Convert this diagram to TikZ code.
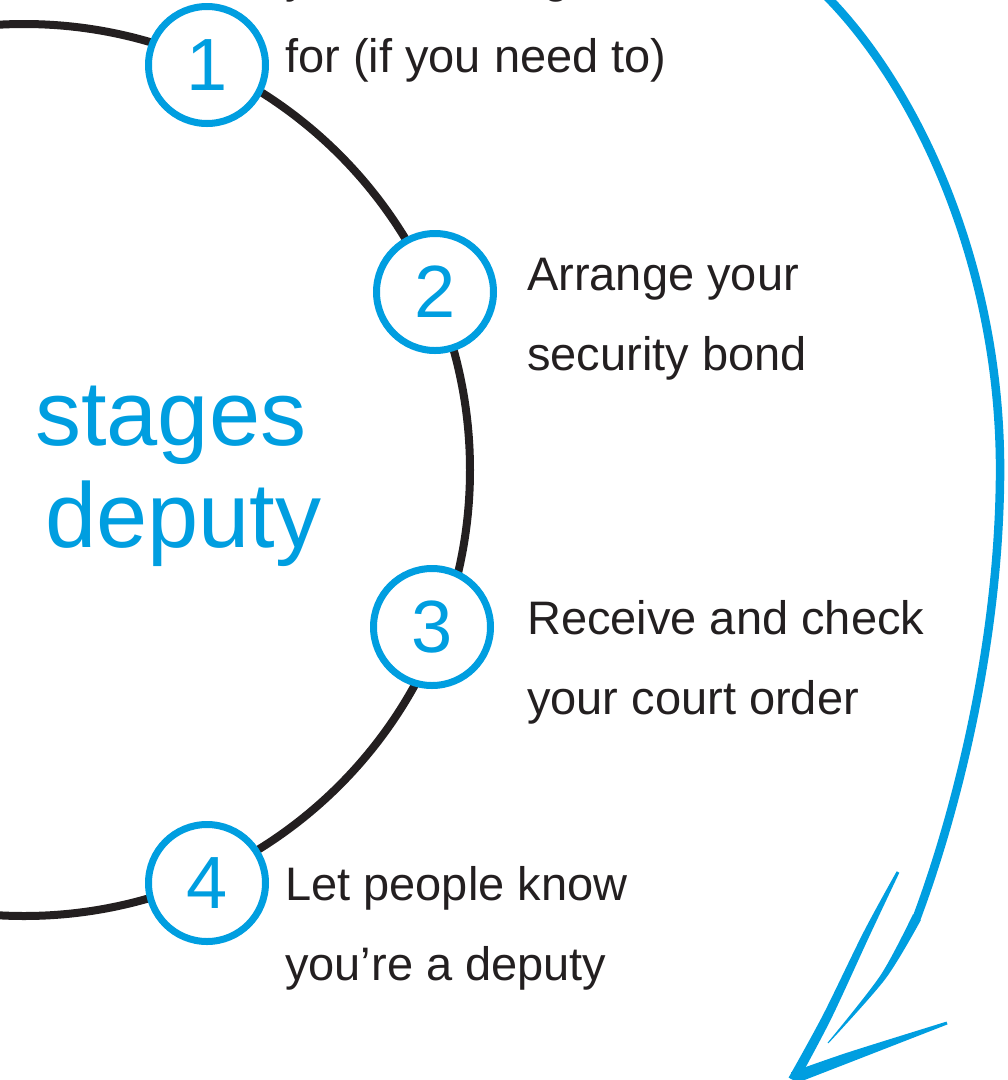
\documentclass[tikz,border=0pt]{standalone}
\usepackage{fontspec}
\setmainfont{Liberation Sans}
\usepackage{xcolor}
\usetikzlibrary{calc}
\definecolor{depblue}{RGB}{0,158,224}
\definecolor{depdark}{RGB}{35,31,32}

\begin{document}
\begin{tikzpicture}[x=1pt,y=-1pt,
  stepnum/.style={circle, draw=depblue, line width=7pt, fill=white, minimum size=117pt,
    inner sep=0pt, text=depblue, font=\fontsize{74}{74}\selectfont},
  steptext/.style={anchor=base west, inner sep=0pt, text=depdark, font=\fontsize{47}{56}\selectfont},
  bigword/.style={anchor=base west, inner sep=0pt, text=depblue, font=\fontsize{92}{100}\selectfont},
  pen/.style={draw=depblue, line cap=round, line join=round}]
  \useasboundingbox (0,0) rectangle (1008,1080);
  \clip (0,0) rectangle (1008,1080);
  % ring
  \coordinate (c) at (24,470);
  \draw[depdark, line width=8pt] (c) circle[radius=446pt];
  % hand drawn arrow
  \draw[pen, line width=8.5pt] (818,-12) .. controls (910,75) and (1003,260) .. (1000,480)
    .. controls (998,650) and (955,815) .. (917,917);
  \fill[depblue] plot[smooth] coordinates {(921.0,919.8) (885.5,978.7) (828.4,1043.3)}
    -- plot[smooth] coordinates {(827.6,1042.7) (880.5,975.3) (913.0,914.2)} -- cycle;
  \fill[depblue] plot[smooth] coordinates {(899.3,872.7) (870.1,934.6) (831.0,1019.1) (797.4,1082.4)}
    -- plot[smooth] coordinates {(788.6,1077.6) (823.0,1014.9) (863.9,931.4) (896.7,871.3)} -- cycle;
  \fill[depblue] plot[smooth] coordinates {(795.0,1083.7) (851.7,1061.7) (947.5,1024.4)}
    -- plot[smooth] coordinates {(946.5,1021.6) (848.3,1052.3) (791.0,1072.3)} -- cycle;
  % numbered steps
  \node[stepnum] (s1) at (207,65) {1};
  \node[stepnum] (s2) at (435,292) {2};
  \node[stepnum] (s3) at (432,627) {3};
  \node[stepnum] (s4) at (207,883) {4};
  \node[steptext] (l1a) at (285,-8) {you are being asked};
  \node[steptext] (l1b) at (285,72) {for (if you need to)};
  \node[steptext] (l2a) at (527,290) {Arrange your};
  \node[steptext] (l2b) at (527,370) {security bond};
  \node[steptext] (l3a) at (527,634) {Receive and check};
  \node[steptext] (l3b) at (527,714) {your court order};
  \node[steptext] (l4a) at (285,900) {Let people know};
  \node[steptext] (l4b) at (285,980) {you’re a deputy};
  % title words
  \node[bigword] (w1) at (35,445) {stages};
  \node[bigword] (w2) at (45,547) {deputy};
\end{tikzpicture}
\end{document}
